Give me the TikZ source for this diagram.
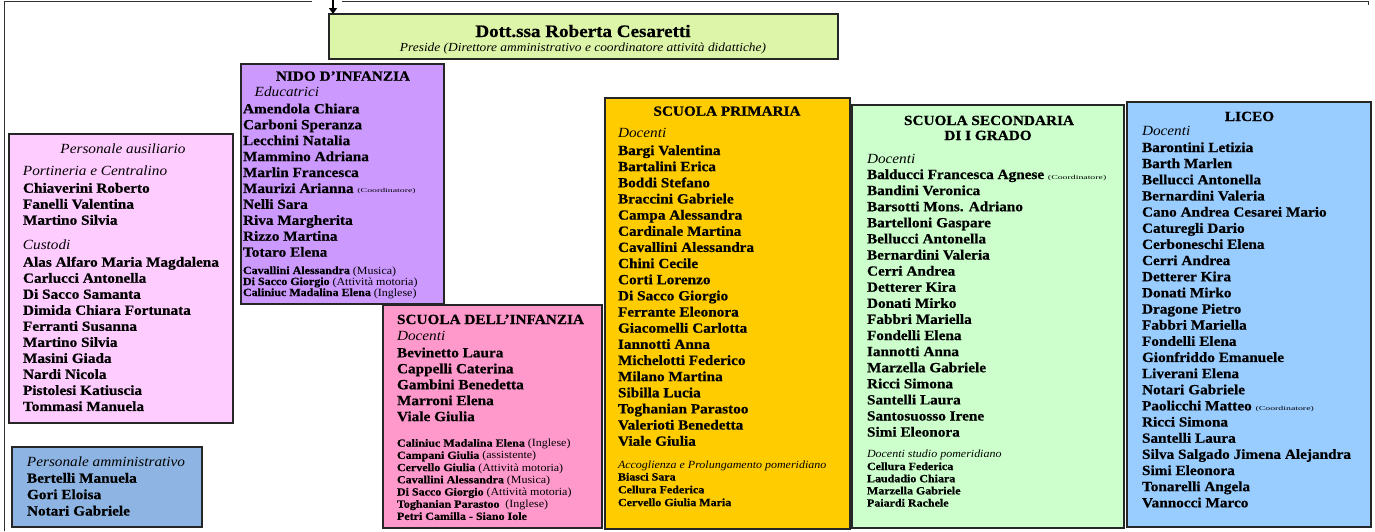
\documentclass[tikz,border=0pt]{standalone}
\usepackage{fontspec}
\setmainfont{Liberation Serif}[FakeStretch=1.09, BoldFeatures={FakeBold=0.7}]
\usepackage{graphicx}
\usetikzlibrary{arrows.meta}
\definecolor{cpres}{HTML}{DDF5A8}
\definecolor{caus}{HTML}{FFCCFF}
\definecolor{cadm}{HTML}{8DB4E2}
\definecolor{cnido}{HTML}{CC99FF}
\definecolor{cinf}{HTML}{FF99CC}
\definecolor{cpri}{HTML}{FFCC00}
\definecolor{csec}{HTML}{CCFFCC}
\definecolor{clic}{HTML}{99CCFF}
\tikzset{
  box/.style={draw=black!85, line width=1.2pt, inner sep=0pt, outer sep=0pt, anchor=north west},
  txt/.style={anchor=base west, inner sep=0pt, outer sep=0pt},
  ctxt/.style={anchor=base, inner sep=0pt, outer sep=0pt},
  nm/.style={txt, font=\fontsize{14}{16}\selectfont\bfseries},
  lab/.style={txt, font=\fontsize{14}{16}\selectfont\itshape},
  clab/.style={ctxt, font=\fontsize{14}{16}\selectfont\itshape},
  hd/.style={ctxt, font=\fontsize{14}{16}\selectfont\bfseries},
  lhd/.style={txt, font=\fontsize{14}{16}\selectfont\bfseries},
  sm/.style={txt, font=\fontsize{11}{12}\selectfont\bfseries},
  smlab/.style={txt, font=\fontsize{11}{12}\selectfont\itshape},
  frame/.style={draw=black!80, line width=1pt},
  arr/.style={line width=2.4pt, -{Triangle[length=6pt,width=8pt]}},
}
\newcommand{\coordlab}{\scalebox{1.5}[1]{\fontsize{6}{7}\selectfont\mdseries(Coordinatore)}}
\newcommand{\prt}[1]{{\mdseries(#1)}}
\begin{document}
\begin{tikzpicture}[x=1pt,y=-1pt]
\useasboundingbox (0,0) rectangle (1375,531);
% frame
\coordinate (fbl) at (4,531);
\coordinate (ftl) at (4,1);
\coordinate (fgap1) at (312,1);
\coordinate (fgap2) at (342,1);
\coordinate (ftr) at (1368,1);
\coordinate (ftr2) at (1368,5);
\draw[frame] (fbl) -- (ftl) -- (fgap1);
\draw[frame] (fgap2) -- (ftr) -- (ftr2);
% preside
\node[box, fill=cpres, minimum width=509pt, minimum height=45pt] (pres) at (329,14) {};
\node[ctxt, font=\fontsize{17.5}{19}\selectfont\bfseries] (prest) at (583,37) {Dott.ssa Roberta Cesaretti};
\node[ctxt, font=\fontsize{12.3}{13}\selectfont\itshape] (press) at (583,51) {Preside (Direttore amministrativo e coordinatore attività didattiche)};
\coordinate (atop) at (333,0);
\draw[arr] (atop) -- (atop |- pres.north);
% personale ausiliario
\node[box, fill=caus, minimum width=224pt, minimum height=289pt] (aus) at (9,134) {};
\node[clab] (ausH) at (123,153) {Personale ausiliario};
\node[lab] (ausP) at (23,175) {Portineria e Centralino};
\foreach \t [count=\i from 0] in {Chiaverini Roberto, Fanelli Valentina, Martino Silvia}
  \node[nm] (ausp\i) at (23,{192.7+\i*16}) {\t};
\node[lab] (ausC) at (23,249.3) {Custodi};
\foreach \t [count=\i from 0] in {Alas Alfaro Maria Magdalena, Carlucci Antonella, Di Sacco Samanta, Dimida Chiara Fortunata, Ferranti Susanna, Martino Silvia, Masini Giada, Nardi Nicola, Pistolesi Katiuscia, Tommasi Manuela}
  \node[nm] (ausc\i) at (23,{266.7+\i*16.03}) {\t};
% personale amministrativo
\node[box, fill=cadm, minimum width=190pt, minimum height=80pt] (adm) at (12,447) {};
\node[lab] (admH) at (27,466) {Personale amministrativo};
\foreach \t [count=\i from 0] in {Bertelli Manuela, Gori Eloisa, Notari Gabriele}
  \node[nm] (adm\i) at (27,{482.7+\i*16.4}) {\t};
% nido
\node[box, fill=cnido, minimum width=203pt, minimum height=240pt] (nido) at (241,64) {};
\node[hd] (nidoH) at (343,80.7) {NIDO D’INFANZIA};
\node[lab] (nidoE) at (254.7,96) {Educatrici};
\foreach \t [count=\i from 0] in {Amendola Chiara, Carboni Speranza, Lecchini Natalia, Mammino Adriana, Marlin Francesca, Maurizi Arianna \coordlab, Nelli Sara, Riva Margherita, Rizzo Martina, Totaro Elena}
  \node[nm] (nido\i) at (243,{113.3+\i*15.93}) {\t};
\foreach \t [count=\i from 0] in {Cavallini Alessandra \prt{Musica}, Di Sacco Giorgio \prt{Attività motoria}, Caliniuc Madalina Elena \prt{Inglese}}
  \node[sm] (nidos\i) at (243,{274+\i*11}) {\t};
% scuola dell'infanzia
\node[box, fill=cinf, minimum width=219pt, minimum height=223pt] (inf) at (383,305) {};
\node[lhd] (infH) at (397,324) {SCUOLA DELL’INFANZIA};
\node[lab] (infD) at (397,340) {Docenti};
\foreach \t [count=\i from 0] in {Bevinetto Laura, Cappelli Caterina, Gambini Benedetta, Marroni Elena, Viale Giulia}
  \node[nm] (inf\i) at (397,{357.3+\i*15.95}) {\t};
\foreach \t [count=\i from 0] in {Caliniuc Madalina Elena \prt{Inglese}, Campani Giulia \prt{assistente}, Cervello Giulia \prt{Attività motoria}, Cavallini Alessandra \prt{Musica}, Di Sacco Giorgio \prt{Attività motoria}, Toghanian Parastoo~ \prt{Inglese}, Petri Camilla - Siano Iole}
  \node[sm] (infs\i) at (397,{446.7+\i*12.2}) {\t};
% scuola primaria
\node[box, fill=cpri, minimum width=245pt, minimum height=431pt] (pri) at (605,98) {};
\node[hd] (priH) at (727,115.7) {SCUOLA PRIMARIA};
\node[lab] (priD) at (618,137.7) {Docenti};
\foreach \t [count=\i from 0] in {Bargi Valentina, Bartalini Erica, Boddi Stefano, Braccini Gabriele, Campa Alessandra, Cardinale Martina, Cavallini Alessandra, Chini Cecile, Corti Lorenzo, Di Sacco Giorgio, Ferrante Eleonora, Giacomelli Carlotta, Iannotti Anna, Michelotti Federico, Milano Martina, Sibilla Lucia, Toghanian Parastoo, Valerioti Benedetta, Viale Giulia}
  \node[nm] (pri\i) at (618,{155+\i*16.15}) {\t};
\node[smlab] (priA) at (618,468.3) {Accoglienza e Prolungamento pomeridiano};
\foreach \t [count=\i from 0] in {Biasci Sara, Cellura Federica, Cervello Giulia Maria}
  \node[sm] (pris\i) at (618,{480.5+\i*12.8}) {\t};
% scuola secondaria
\node[box, fill=csec, minimum width=272pt, minimum height=423pt] (sec) at (852,105) {};
\node[hd] (secH1) at (989,125) {SCUOLA SECONDARIA};
\node[hd] (secH2) at (988,140) {DI I GRADO};
\node[lab] (secD) at (867,163.3) {Docenti};
\foreach \t [count=\i from 0] in {Balducci Francesca Agnese \coordlab, Bandini Veronica, Barsotti Mons. Adriano, Bartelloni Gaspare, Bellucci Antonella, Bernardini Valeria, Cerri Andrea, Detterer Kira, Donati Mirko, Fabbri Mariella, Fondelli Elena, Iannotti Anna, Marzella Gabriele, Ricci Simona, Santelli Laura, Santosuosso Irene, Simi Eleonora}
  \node[nm] (sec\i) at (867,{179+\i*16.1}) {\t};
\node[smlab] (secS) at (867,457.7) {Docenti studio pomeridiano};
\foreach \t [count=\i from 0] in {Cellura Federica, Laudadio Chiara, Marzella Gabriele, Paiardi Rachele}
  \node[sm] (secs\i) at (867,{470+\i*12.2}) {\t};
% liceo
\node[box, fill=clic, minimum width=244pt, minimum height=425pt] (lic) at (1127,102) {};
\node[hd] (licH) at (1249.5,121) {LICEO};
\node[lab] (licD) at (1142,135.7) {Docenti};
\foreach \t [count=\i from 0] in {Barontini Letizia, Barth Marlen, Bellucci Antonella, Bernardini Valeria, Cano Andrea Cesarei Mario, Caturegli Dario, Cerboneschi Elena, Cerri Andrea, Detterer Kira, Donati Mirko, Dragone Pietro, Fabbri Mariella, Fondelli Elena, Gionfriddo Emanuele, Liverani Elena, Notari Gabriele, Paolicchi Matteo \coordlab, Ricci Simona, Santelli Laura, Silva Salgado Jimena Alejandra, Simi Eleonora, Tonarelli Angela, Vannocci Marco}
  \node[nm] (lic\i) at (1142,{152+\i*16.15}) {\t};
\end{tikzpicture}
\end{document}
